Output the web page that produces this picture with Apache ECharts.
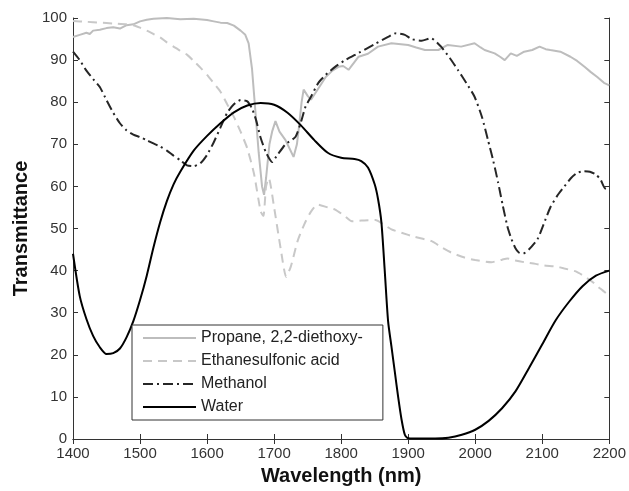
<!DOCTYPE html>
<html>
<head>
<meta charset="utf-8">
<script src="https://cdn.jsdelivr.net/npm/echarts@6/dist/echarts.min.js"></script>
<style>
html,body{margin:0;padding:0;background:#fff;}
#main{width:629px;height:491px;}
</style>
</head>
<body>
<div id="main"></div>
<script>
//wavelength ticks
var xTicks = [1400,1500,1600,1700,1800,1900,2000,2100,2200];
var yTicks = [0,10,20,30,40,50,60,70,80,90,100];
var seriesNames = ['Propane, 2,2-diethoxy-','Ethanesulfonic acid','Methanol','Water'];

//Propane, 2,2-diethoxy-
var propaneNm = [1400,1410,1420,1425,1430,1440,1450,1460,1470,1480,1490,1500,1510,1520,1540,1560,1580,1600,1610,1620,1630,1640,1650,1657,1662,1667,1672,1677,1682,1685,1688,1693,1697,1702,1708,1717,1723,1729,1734,1737,1741,1744,1750,1755,1765,1777,1787,1796,1803,1811,1826,1840,1855,1875,1900,1912,1925,1945,1959,1979,1999,2008,2014,2029,2037,2044,2053,2062,2073,2085,2096,2105,2112,2127,2142,2152,2163,2172,2182,2192,2200];
var propaneT = [95.5,96,96.5,96.2,97,97.2,97.6,97.8,97.5,98.3,98.5,99.2,99.6,99.8,100,99.7,99.8,99.5,99.2,98.9,98.8,98.2,97,96,94,88,78,68,60,58,62,70,73,75.5,73,71,69,67,70,74,80,83,81.5,80.6,83,86,87.5,88.4,88.6,87.7,90.8,91.5,93.2,94,93.6,93,92.4,92.4,93.6,93.2,94,93,92.4,91.6,90.8,90,91.6,91,92,92.4,93.2,92.6,92.4,92,90.8,89.8,88.4,87.2,86,84.6,84];

//Ethanesulfonic acid
var ethaneNm = [1400,1420,1440,1460,1480,1490,1500,1510,1520,1530,1540,1550,1560,1570,1580,1590,1600,1610,1620,1630,1640,1650,1660,1670,1680,1684,1688,1692,1700,1710,1718,1725,1735,1745,1755,1765,1780,1791,1805,1816,1830,1851,1863,1875,1890,1910,1935,1950,1964,1984,2000,2024,2040,2048,2060,2073,2090,2103,2120,2133,2150,2163,2175,2182,2190,2200];
var ethaneT = [99.3,99.1,98.9,98.7,98.5,98.3,97.7,97,96.2,95.4,94.2,93.2,92.2,91.3,89.8,88.2,86.5,84.5,82.5,79.5,76.5,73,69,63,54,53,60,62,55,45,38.5,41,47,51,54,55.7,55,54.5,53,51.7,51.9,52,51,49.8,49,48,47,45.5,44.3,43.1,42.5,42,42.6,42.9,42.4,42,41.6,41.2,41,40.5,39.8,38.6,37.3,36.3,35.3,34];

//Methanol
var methanolNm = [1400,1410,1420,1430,1440,1450,1460,1470,1480,1490,1500,1510,1520,1530,1540,1550,1560,1570,1580,1590,1600,1610,1620,1630,1640,1650,1660,1667,1673,1680,1688,1697,1705,1717,1732,1741,1747,1755,1766,1777,1791,1806,1826,1850,1870,1882,1895,1905,1920,1934,1949,1962,1974,1987,1999,2010,2019,2027,2034,2041,2048,2054,2060,2065,2071,2080,2093,2102,2112,2122,2133,2143,2152,2162,2171,2180,2187,2194,2200];
var methanolT = [92,90,87.5,85.5,83.6,80.5,77.5,75,73.3,72.3,71.7,71,70.2,69.5,68.5,67.3,66.2,65,64.8,65.5,67.5,70.5,74,77.5,79.5,80.5,80.2,78.5,75.8,71.5,68,65.8,67.5,70,71.8,75.8,79,81.3,84.6,86.5,88.4,90,91.7,93.8,95.5,96.4,96,95,94.6,95.2,93.2,90.5,87.7,84.5,81.3,76.5,71,66,61,55.5,50.5,47.5,45.3,44.3,44,45,47.5,51,55,57.7,60,62,63.2,63.6,63.5,62.8,61.6,59.5,59.5];

//Water
var waterNm = [1400,1410,1420,1430,1440,1450,1460,1470,1480,1490,1500,1510,1520,1530,1540,1550,1560,1580,1600,1620,1640,1660,1680,1700,1720,1740,1760,1780,1800,1820,1830,1840,1850,1855,1860,1865,1870,1875,1880,1885,1890,1895,1900,1920,1940,1960,1980,2000,2020,2040,2060,2080,2100,2120,2140,2160,2180,2200];
var waterT = [44,34,28.5,24.5,21.8,20.2,20.4,21.5,24.2,28,33,38.8,45.5,51.5,56.5,60.5,63.5,68.5,72,75,77.6,79.2,79.8,79.4,77.5,74.5,71,68,66.8,66.5,66,64.5,60.5,57,51.5,40,28,22,16,10,4.7,1,0.2,0.1,0.1,0.3,1,2.2,4.3,7.3,11.3,16.8,22.5,28.2,32.6,36.3,38.8,40];

function pairs(xs, ys){
	var out = [];
	for(var i = 0; i < xs.length; i++){
		out.push([xs[i], ys[i]]);
	}
	return out;
}

var font = "'Liberation Sans', Arial, sans-serif";
var frameColor = '#333';
var plainNum = function(v){ return String(v); };

var chart = echarts.init(document.getElementById('main'));
var option = {
	animation: false,
	backgroundColor: '#fff',
	grid: {left: 73, right: 17, top: 18, bottom: 51},
	legend: {
		data: seriesNames,
		orient: 'vertical',
		left: 132,
		top: 325,
		padding: [5, 20, 5, 10],
		itemWidth: 53,
		itemHeight: 14,
		itemGap: 7,
		borderColor: frameColor,
		borderWidth: 1,
		backgroundColor: '#fff',
		itemStyle: {opacity: 0, borderWidth: 0},
		textStyle: {fontFamily: font, fontSize: 16, color: '#222', lineHeight: 16}
	},
	xAxis: [{
		type: 'value',
		min: xTicks[0],
		max: xTicks[xTicks.length - 1],
		interval: 100,
		name: 'Wavelength (nm)',
		nameLocation: 'middle',
		nameGap: 27,
		nameTextStyle: {fontFamily: font, fontSize: 20, fontWeight: 'bold', color: '#111'},
		axisLine: {lineStyle: {color: frameColor, width: 1}},
		axisTick: {inside: true, length: 5, lineStyle: {color: frameColor}},
		axisLabel: {margin: 7, fontFamily: font, fontSize: 15, color: '#333', formatter: plainNum},
		splitLine: {show: false}
	}, {
		type: 'value',
		position: 'top',
		min: xTicks[0],
		max: xTicks[xTicks.length - 1],
		interval: 100,
		axisLine: {lineStyle: {color: frameColor, width: 1}},
		axisTick: {inside: true, length: 5, lineStyle: {color: frameColor}},
		axisLabel: {show: false},
		splitLine: {show: false}
	}],
	yAxis: [{
		type: 'value',
		min: yTicks[0],
		max: yTicks[yTicks.length - 1],
		interval: 10,
		name: 'Transmittance',
		nameLocation: 'middle',
		nameGap: 41,
		nameTextStyle: {fontFamily: font, fontSize: 20, fontWeight: 'bold', color: '#111'},
		axisLine: {show: true, lineStyle: {color: frameColor, width: 1}},
		axisTick: {show: true, inside: true, length: 5, lineStyle: {color: frameColor}},
		axisLabel: {margin: 6, fontFamily: font, fontSize: 15, color: '#333', formatter: plainNum},
		splitLine: {show: false}
	}, {
		type: 'value',
		position: 'right',
		min: yTicks[0],
		max: yTicks[yTicks.length - 1],
		interval: 10,
		axisLine: {show: true, lineStyle: {color: frameColor, width: 1}},
		axisTick: {show: true, inside: true, length: 5, lineStyle: {color: frameColor}},
		axisLabel: {show: false},
		splitLine: {show: false}
	}],
	series: [{
		name: seriesNames[0],
		type: 'line',
		data: pairs(propaneNm, propaneT),
		symbol: 'none',
		lineStyle: {color: '#bdbdbd', width: 2},
		itemStyle: {color: '#bdbdbd'}
	}, {
		name: seriesNames[1],
		type: 'line',
		data: pairs(ethaneNm, ethaneT),
		symbol: 'none',
		smooth: 0.2,
		lineStyle: {color: '#c8c8c8', width: 2, type: [9, 6]},
		itemStyle: {color: '#c8c8c8'}
	}, {
		name: seriesNames[2],
		type: 'line',
		data: pairs(methanolNm, methanolT),
		symbol: 'none',
		smooth: 0.2,
		lineStyle: {color: '#262626', width: 2, type: [10, 4, 2, 4]},
		itemStyle: {color: '#262626'}
	}, {
		name: seriesNames[3],
		type: 'line',
		data: pairs(waterNm, waterT),
		symbol: 'none',
		smooth: 0.25,
		lineStyle: {color: '#000', width: 2},
		itemStyle: {color: '#000'}
	}]
};
chart.setOption(option);
</script>
</body>
</html>
